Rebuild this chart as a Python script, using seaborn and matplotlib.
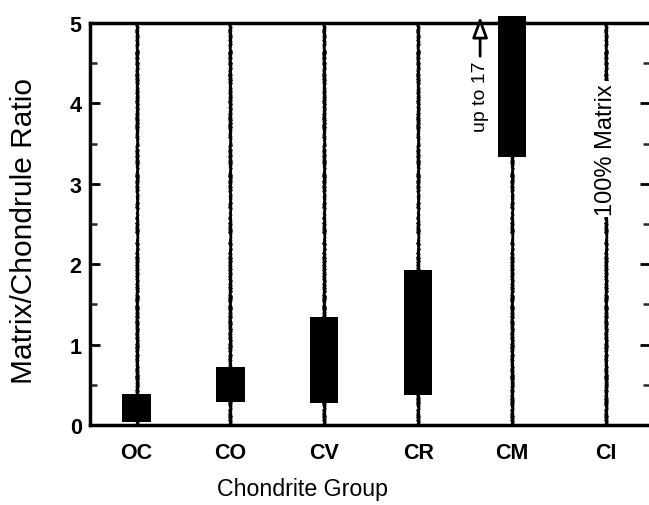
import numpy as np
import matplotlib
matplotlib.use("Agg")
import matplotlib.pyplot as plt
import seaborn as sns
from matplotlib.transforms import Bbox, TransformedBbox
from matplotlib.ticker import MultipleLocator

# ---- data ----
groups = ["OC", "CO", "CV", "CR", "CM", "CI"]
ratio_low = [0.04, 0.29, 0.27, 0.37, 3.33, 0.0]
ratio_high = [0.39, 0.72, 1.34, 1.93, 17.0, 0.0]
y_ticks = [0, 1, 2, 3, 4, 5]

sns.set_theme(style="ticks")
plt.rcParams["font.family"] = ["Liberation Sans", "DejaVu Sans"]
plt.rcParams["text.color"] = "black"
plt.rcParams["axes.labelcolor"] = "black"

fig = plt.figure(figsize=(6.49, 5.06), dpi=100)
ax = fig.add_axes([90 / 649, 1 - 426 / 506, 560 / 649, 402 / 506])

lo = np.array(ratio_low)
hi = np.array(ratio_high)
heights = hi - lo

# wavy vertical guide lines at each group
pos = np.arange(len(groups))
vl = ax.vlines(pos, 0, 5, color="black", lw=2.0, zorder=1)
vl.set_sketch_params(scale=1.0, length=2.5, randomness=1.5)

sns.barplot(x=groups, y=heights, bottom=lo, color="black", width=0.3,
            errorbar=None, ax=ax, zorder=3, saturation=1, linewidth=0)

# let the open-ended CM bar overshoot the frame slightly
cb = TransformedBbox(Bbox([[0, 0], [1, 1.018]]), ax.transAxes)
for p in ax.patches:
    p.set_clip_path(None)
    p.set_clip_box(cb)

ax.set_xlim(-0.496, 5.47)
ax.set_ylim(0, 5)
ax.set_yticks(y_ticks)
ax.yaxis.set_minor_locator(MultipleLocator(0.5))
ax.set_yticklabels([str(t) for t in y_ticks])

for s in ["left", "top", "bottom"]:
    ax.spines[s].set_linewidth(2.5)
    ax.spines[s].set_color("black")
ax.spines["right"].set_visible(False)

ax.tick_params(axis="y", which="major", direction="in", length=7.5, width=2,
               left=True, right=True, labelsize=15.5, pad=6, colors="black")
ax.tick_params(axis="y", which="minor", direction="in", length=5, width=1.8,
               left=True, right=True)
ax.tick_params(axis="x", length=0, pad=12, labelsize=15.5, colors="black")
for t in ax.get_xticklabels() + ax.get_yticklabels():
    t.set_fontweight("bold")

ax.set_xlabel("Chondrite Group", fontsize=16.7)
ax.set_ylabel("Matrix/Chondrule Ratio", fontsize=21.5)
ax.xaxis.set_label_coords(0.38, -0.13)
ax.yaxis.set_label_coords(-0.093, 0.485)

ax.text(5, 3.43, "100% Matrix", rotation=90, ha="center", va="center",
        fontsize=17, bbox=dict(fc="white", ec="none", pad=1.5), zorder=4)

ax.annotate("up to 17", xy=(3.66, 5.08), xytext=(3.66, 4.09),
            rotation=90, ha="center", va="center", fontsize=14,
            annotation_clip=False,
            arrowprops=dict(arrowstyle="-|>,head_length=0.9,head_width=0.33",
                            fc="white", ec="black", lw=2.0,
                            shrinkA=1, shrinkB=0))

fig.savefig("out.png", dpi=100)
